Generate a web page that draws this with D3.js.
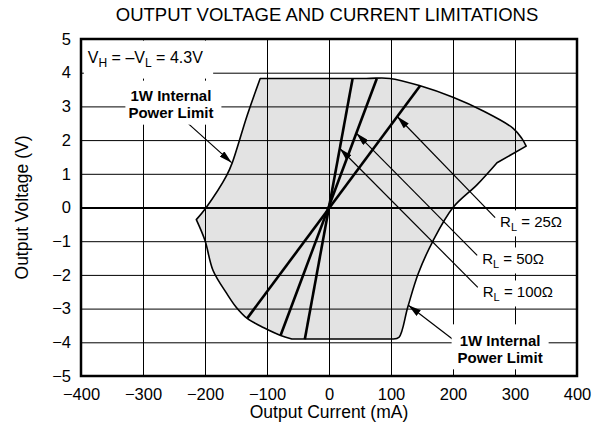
<!DOCTYPE html>
<html>
<head>
<meta charset="utf-8">
<script src="https://cdn.jsdelivr.net/npm/d3@7"></script>
<style>
    body { margin: 0; background: white; }
    text { font-family: "Liberation Sans", Arial, sans-serif; }
</style>
</head>
<body>
<script>
    // safe operating region (current mA, voltage V)
    var areaI = [-111, 60, 98, 147, 200, 248, 297, 311, 318, 271, 239, 200, 168, 144, 127, 113, 104,
                 -60, -79, -105, -132, -150, -165, -187, -200, -214, -198, -165, -156, -132, -111];
    var areaV = [3.83, 3.83, 3.83, 3.61, 3.27, 2.87, 2.35, 2.05, 1.82, 1.33, 0.68, 0, -0.98, -1.96, -2.96, -3.85, -3.9,
                 -3.9, -3.79, -3.57, -3.29, -2.95, -2.55, -1.87, -0.98, -0.36, 0, 0.95, 1.33, 2.73, 3.83];
    // indices where the outline has a sharp corner
    var corners = [0, 8, 9, 16, 17, 25, 30];

    // load lines: end points
    var loadNames = ["25", "50", "100"];
    var loadI = [[-132, 147], [-78, 77], [-39, 38]];
    var loadV = [[-3.29, 3.61], [-3.79, 3.82], [-3.91, 3.82]];

    var xTicks = [-400, -300, -200, -100, 0, 100, 200, 300, 400];
    var yTicks = [-5, -4, -3, -2, -1, 0, 1, 2, 3, 4, 5];

    var W = 599, H = 443;
    var m = {left: 81, right: 22, top: 39, bottom: 67};

    var svg = d3.select("body").append("svg")
        .attr("width", W)
        .attr("height", H);

    var x = d3.scaleLinear().domain([-400, 400]).range([m.left, W - m.right]);
    var y = d3.scaleLinear().domain([-5, 5]).range([H - m.bottom, m.top]);

    svg.append("defs").append("marker")
        .attr("id", "arr")
        .attr("viewBox", "0 0 13 7")
        .attr("refX", 13)
        .attr("refY", 3.5)
        .attr("markerUnits", "userSpaceOnUse")
        .attr("markerWidth", 13)
        .attr("markerHeight", 7)
        .attr("orient", "auto")
        .append("path")
        .attr("d", "M0,0 L13,3.5 L0,7 Z")
        .attr("fill", "black");

    // title
    svg.append("text")
        .attr("x", 327)
        .attr("y", 21)
        .attr("text-anchor", "middle")
        .style("font-size", "18.5px")
        .text("OUTPUT VOLTAGE AND CURRENT LIMITATIONS");

    // outline of the region, smooth between corners
    var smooth = d3.line()
        .x(function(d) { return x(d[0]); })
        .y(function(d) { return y(d[1]); })
        .curve(d3.curveCatmullRom.alpha(0.5));
    var straight = d3.line()
        .x(function(d) { return x(d[0]); })
        .y(function(d) { return y(d[1]); });

    var pts = areaI.map(function(d, i) { return [d, areaV[i]]; });
    var outline = "";
    for (var c = 0; c < corners.length - 1; c++) {
        var seg = smooth(pts.slice(corners[c], corners[c + 1] + 1));
        outline += (c == 0) ? seg : seg.replace(/^M/, "L");
    }
    outline += "Z";

    svg.append("path")
        .attr("d", outline)
        .attr("fill", "#e3e3e3");

    // grid
    var gx = svg.append("g")
        .attr("transform", "translate(0," + (H - m.bottom) + ")")
        .call(d3.axisBottom(x).tickValues(xTicks).tickSize(-(H - m.top - m.bottom)).tickPadding(7));
    var gy = svg.append("g")
        .attr("transform", "translate(" + m.left + ",0)")
        .call(d3.axisLeft(y).tickValues(yTicks).tickSize(-(W - m.left - m.right)).tickPadding(10));

    [gx, gy].forEach(function(g) {
        g.select(".domain").remove();
        g.selectAll("line").attr("stroke", "black").attr("stroke-width", 1);
        g.selectAll("text")
            .attr("fill", "black")
            .style("font-size", "16.5px")
            .style("font-family", "'Liberation Sans', Arial, sans-serif");
    });
    gx.selectAll("text").attr("dy", "1.0em");
    gy.selectAll("line").filter(function(d) { return d == 0; }).attr("stroke-width", 2);

    svg.append("path")
        .attr("d", outline)
        .attr("fill", "none")
        .attr("stroke", "black")
        .attr("stroke-width", 1.6)
        .attr("stroke-linejoin", "round");

    for (var j = 0; j < loadNames.length; j++) {
        svg.append("path")
            .datum([[loadI[j][0], loadV[j][0]], [loadI[j][1], loadV[j][1]]])
            .attr("d", straight)
            .attr("stroke", "black")
            .attr("stroke-width", 2.6)
            .attr("fill", "none");
    }

    // labels with white boxes
    var labels = [
        {x: -389, y: 4.30, anchor: "start", bold: false, size: 16, lines: [["V", "H", " = \u2013V", "L", " = 4.3V"]], pad: [4, 10, 8, 9]},
        {x: -255, y: 3.17, anchor: "middle", bold: true, size: 15, lines: [["1W Internal"], ["Power Limit"]], pad: [3, 8, 6, 4]},
        {x: 276, y: -4.12, anchor: "middle", bold: true, size: 15, lines: [["1W Internal"], ["Power Limit"]], pad: [6, 6, 8, 3]},
        {x: 276, y: -0.59, anchor: "start", bold: false, size: 15, lines: [["R", "L", " = 25\u03A9"]], pad: [3, 3, 3, 3]},
        {x: 247, y: -1.69, anchor: "start", bold: false, size: 15, lines: [["R", "L", " = 50\u03A9"]], pad: [3, 3, 3, 3]},
        {x: 248, y: -2.67, anchor: "start", bold: false, size: 15, lines: [["R", "L", " = 100\u03A9"]], pad: [3, 3, 3, 3]}
    ];

    // leader arrows [fromI, fromV, toI, toV]
    var leaders = [
        [-227, 2.49, -157, 1.33],
        [268, -0.30, 110, 2.70],
        [239, -1.42, 44.3, 2.2],
        [240, -2.37, 17.4, 1.75],
        [208, -4.03, 128, -2.9]
    ];

    leaders.forEach(function(l) {
        svg.append("line")
            .attr("x1", x(l[0])).attr("y1", y(l[1]))
            .attr("x2", x(l[2])).attr("y2", y(l[3]))
            .attr("stroke", "black")
            .attr("stroke-width", 1.2)
            .attr("marker-end", "url(#arr)");
    });

    labels.forEach(function(lb) {
        var g = svg.append("g");
        var bg = g.append("rect").attr("fill", "white");
        var t = g.append("text")
            .attr("text-anchor", lb.anchor)
            .style("font-size", lb.size + "px")
            .style("font-weight", lb.bold ? "bold" : "normal");
        lb.lines.forEach(function(parts, k) {
            var ln = t.append("tspan")
                .attr("x", x(lb.x))
                .attr("y", y(lb.y) + k * 17);
            parts.forEach(function(p, n) {
                var sp = ln.append("tspan").text(p);
                if (n % 2 == 1) {
                    sp.style("font-size", (lb.size - 4) + "px").attr("dy", 4);
                } else if (n > 0) {
                    sp.attr("dy", -4);
                }
            });
        });
        var b = t.node().getBBox();
        bg.attr("x", b.x - lb.pad[0])
            .attr("y", b.y - lb.pad[2])
            .attr("width", b.width + lb.pad[0] + lb.pad[1])
            .attr("height", b.height + lb.pad[2] + lb.pad[3]);
    });

    // frame
    svg.append("rect")
        .attr("x", m.left)
        .attr("y", m.top)
        .attr("width", W - m.left - m.right)
        .attr("height", H - m.top - m.bottom)
        .attr("fill", "none")
        .attr("stroke", "black")
        .attr("stroke-width", 2.5);

    // axis titles
    svg.append("text")
        .attr("x", (m.left + W - m.right) / 2)
        .attr("y", 418)
        .attr("text-anchor", "middle")
        .style("font-size", "17.5px")
        .text("Output Current (mA)");

    svg.append("text")
        .attr("transform", "translate(28," + (m.top + (H - m.top - m.bottom) / 2) + ") rotate(-90)")
        .attr("text-anchor", "middle")
        .style("font-size", "17.5px")
        .text("Output Voltage (V)");
</script>
</body>
</html>
